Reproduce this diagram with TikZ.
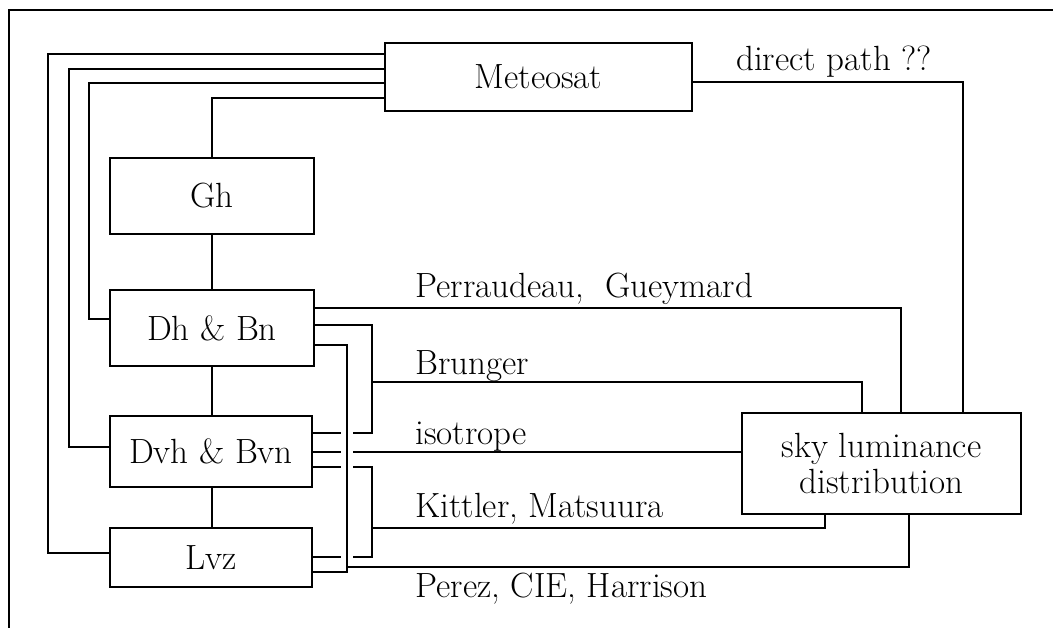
\documentclass[tikz,border=0pt]{standalone}
\usepackage{tikz}

\tikzset{
    block/.style={draw, line width=1pt, inner sep=0pt, align=center},
    lbl/.style={inner sep=0pt, anchor=base west},
    wire/.style={line width=1pt}
}

\begin{document}
\begin{tikzpicture}[x=0.5pt, y=-0.5pt, font=\fontsize{17.5}{18}\selectfont]

    \useasboundingbox (0,0) rectangle (1053,628);

    %cadre
    \draw[wire] (1053,10) -- (9,10) -- (9,628);

    %blocs
    \node[block, minimum width=153.5pt, minimum height=34pt] (meteosat) at (538.5,77) {Meteosat};
    \node[block, minimum width=102pt, minimum height=38pt] (gh) at (212,196) {Gh};
    \node[block, minimum width=102pt, minimum height=38pt] (dh) at (212,328) {Dh \& Bn};
    \node[block, minimum width=101pt, minimum height=35.5pt] (dvh) at (211,451.5) {Dvh \& Bvn};
    \node[block, minimum width=101pt, minimum height=29.5pt] (lvz) at (211,557.5) {Lvz};
    \node[block, minimum width=139.5pt, minimum height=50.5pt] (sky) at (881.5,463.5) {sky luminance\\distribution};

    %chaine verticale
    \draw[wire] (meteosat.west |- 0,98) -| (gh.north);
    \draw[wire] (gh.south) -- (gh.south |- dh.north);
    \draw[wire] (dh.south) -- (dh.south |- dvh.north);
    \draw[wire] (dvh.south -| dh.south) -- (dh.south |- lvz.north);

    %retours a gauche
    \draw[wire] (meteosat.west |- 0,54) -| (48,553) -- (lvz.west |- 0,553);
    \draw[wire] (meteosat.west |- 0,69) -| (69,447) -- (dvh.west |- 0,447);
    \draw[wire] (meteosat.west |- 0,83) -| (89,319) -- (dh.west |- 0,319);

    %direct path
    \draw[wire] (meteosat.east |- 0,82) -| (sky.north -| 963,0);
    \node[lbl, anchor=base] (direct) at (834,70) {direct path ??};

    %modeles
    \draw[wire] (dh.east |- 0,308) -| (sky.north -| 901,0);
    \draw[wire] (dh.east |- 0,325) -| (372,433) -- (353,433);
    \draw[wire] (372,382) -| (sky.north -| 862,0);
    \draw[wire] (dh.east |- 0,345) -| (347,572) -- (lvz.east |- 0,572);
    \draw[wire] (347,567) -| (sky.south -| 909,0);

    \foreach \y in {433,452,467}{
        \draw[wire] (dvh.east |- 0,\y) -- (341,\y);
    }
    \draw[wire] (lvz.east |- 0,557) -- (341,557);
    \draw[wire] (353,452) -- (sky.west |- 0,452);
    \draw[wire] (353,467) -| (372,557) -- (353,557);
    \draw[wire] (372,528) -| (sky.south -| 825,0);

    \node[lbl] (perraudeau) at (415,297) {Perraudeau,\ \ Gueymard};
    \node[lbl] (brunger) at (415,374) {Brunger};
    \node[lbl] (isotrope) at (415,444) {isotrope};
    \node[lbl] (kittler) at (415,517) {Kittler, Matsuura};
    \node[lbl] (perez) at (415,597) {Perez, CIE, Harrison};

\end{tikzpicture}
\end{document}
